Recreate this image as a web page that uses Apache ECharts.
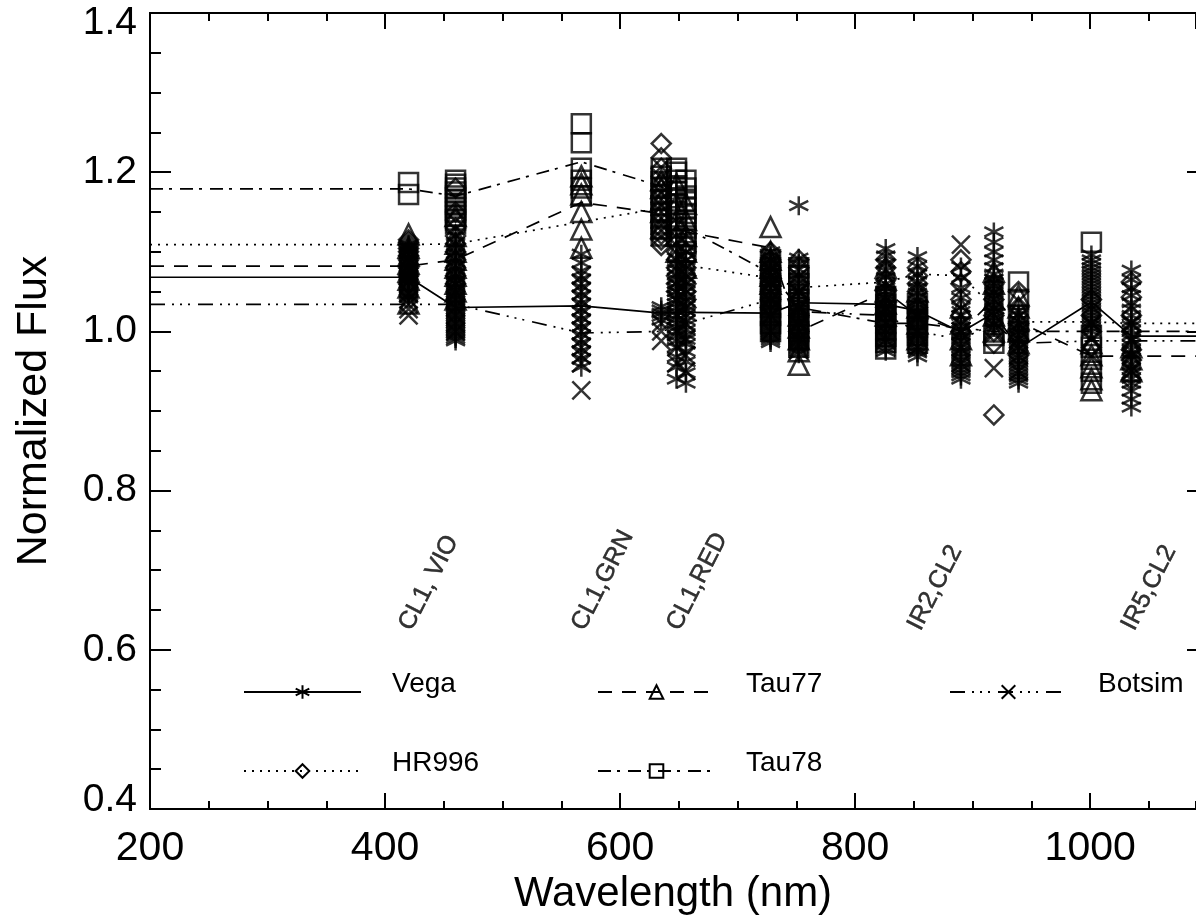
<!DOCTYPE html>
<html><head><meta charset="utf-8">
<script src="https://cdn.jsdelivr.net/npm/echarts@6/dist/echarts.min.js"></script>
<style>html,body{margin:0;padding:0;background:#fff}#c{width:1196px;height:918px}</style>
</head><body><div id="c"></div>
<script>
// Filter wavelengths (nm)
const filters = [420, 460, 567, 635, 648, 656, 728, 752, 826, 853, 890, 918, 939, 1001, 1035];
const filterLabels = ['CL1, VIO', 'CL1,GRN', 'CL1,RED', 'IR2,CL2', 'IR5,CL2'];
const filterLabelWl = [420, 567, 648, 853, 1035];
const filterLabelY = [0.627, 0.627, 0.627, 0.627, 0.627];
const yTickLabels = ['0.4', '0.6', '0.8', '1.0', '1.2', '1.4'];

// Individual measurements per filter (same order as filters)
const vegaPts = [
  [1.042,1.045,1.048,1.051,1.054,1.057,1.060,1.062,1.064,1.066,1.068,1.070,1.072,1.074,1.076,1.078,1.081,1.084,1.087,1.090,1.093,1.097,1.101,1.105,1.109],
  [0.988,0.991,0.994,0.997,1.0,1.003,1.006,1.009,1.012,1.015,1.018,1.021,1.024,1.027,1.030,1.033,1.036,1.039,1.042,1.045,1.048,1.052,1.056,1.06,1.064,1.068,1.072,1.077,1.082,1.087,1.092,1.098,1.105,1.112,1.12],
  [0.955,0.966,0.976,0.986,0.996,1.006,1.016,1.026,1.036,1.046,1.056,1.066,1.076,1.086,1.097],
  [1.014,1.019,1.023,1.027,1.031],
  [0.94,0.955,0.968,0.98,0.988,0.994,1.0,1.005,1.01,1.015,1.02,1.025,1.03,1.035,1.04,1.045,1.05,1.055,1.06,1.066,1.072,1.078,1.085,1.092],
  [0.935,0.948,0.962,0.975,0.984,0.99,0.996,1.002,1.008,1.014,1.02,1.026,1.032,1.038,1.044,1.05,1.056,1.062,1.068,1.075,1.082,1.09,1.1],
  [0.986,0.989,0.992,0.995,0.998,1.001,1.004,1.007,1.01,1.013,1.016,1.019,1.022,1.025,1.028,1.031,1.034,1.037,1.04,1.043,1.046,1.05,1.054,1.058,1.062,1.066,1.07,1.074,1.078,1.082,1.086,1.09,1.095,1.1],
  [0.972,0.975,0.978,0.981,0.984,0.987,0.99,0.993,0.996,0.999,1.002,1.005,1.008,1.011,1.014,1.017,1.02,1.023,1.026,1.029,1.032,1.036,1.04,1.044,1.048,1.052,1.057,1.062,1.067,1.072,1.078,1.085,1.092,1.158],
  [0.975,0.979,0.983,0.987,0.99,0.993,0.996,0.999,1.002,1.005,1.008,1.011,1.014,1.017,1.02,1.023,1.026,1.029,1.032,1.035,1.038,1.042,1.046,1.05,1.055,1.06,1.068,1.076,1.085,1.095,1.104],
  [0.968,0.973,0.977,0.981,0.985,0.988,0.991,0.994,0.997,1.0,1.003,1.006,1.009,1.012,1.015,1.018,1.021,1.024,1.027,1.03,1.034,1.038,1.043,1.048,1.055,1.063,1.072,1.082,1.094],
  [0.94,0.944,0.948,0.952,0.956,0.96,0.964,0.968,0.972,0.976,0.98,0.984,0.988,0.992,0.996,1.0,1.005,1.012,1.02,1.03,1.042,1.055,1.068,1.081],
  [1.005,1.009,1.013,1.017,1.021,1.025,1.029,1.033,1.037,1.041,1.045,1.049,1.053,1.057,1.061,1.066,1.072,1.08,1.09,1.1,1.112,1.125],
  [0.935,0.939,0.943,0.947,0.951,0.955,0.959,0.963,0.967,0.971,0.975,0.979,0.983,0.987,0.991,0.995,0.999,1.003,1.008,1.014,1.02,1.026],
  [1.0,1.004,1.008,1.012,1.016,1.02,1.024,1.028,1.032,1.036,1.04,1.044,1.048,1.052,1.056,1.06,1.064,1.068,1.072,1.076,1.08,1.085,1.09,1.096],
  [0.905,0.915,0.925,0.935,0.941,0.947,0.953,0.959,0.965,0.971,0.977,0.983,0.989,0.995,1.001,1.007,1.013,1.02,1.028,1.036,1.045,1.055,1.065,1.077]
];
const hr996Pts = [
  [1.06,1.07,1.08,1.09,1.095,1.10,1.104,1.108,1.112,1.115],
  [1.06,1.07,1.08,1.09,1.10,1.11,1.12,1.13,1.14,1.15,1.18],
  [],
  [1.108,1.115,1.122,1.13,1.138,1.146,1.154,1.162,1.17,1.178,1.186,1.195,1.205,1.218,1.236],
  [1.05,1.06,1.07,1.08,1.09,1.10,1.11,1.12,1.13],
  [1.03,1.04,1.05,1.06,1.07,1.08,1.09,1.10,1.11],
  [1.03,1.04,1.05,1.06,1.07,1.08,1.09,1.10],
  [1.0,1.02,1.04,1.06,1.08,1.09],
  [1.01,1.03,1.05,1.065,1.08,1.09],
  [1.03,1.05,1.06,1.07,1.08],
  [1.0,1.02,1.04,1.06,1.075,1.09],
  [0.895,0.985,1.0,1.02,1.04,1.06],
  [0.97,0.99,1.01,1.03,1.05],
  [0.98,1.0,1.02,1.04],
  [0.939,0.964,0.977,1.0,1.02,1.043,1.062]
];
const tau77Pts = [
  [1.035,1.055,1.065,1.075,1.085,1.095,1.105,1.122],
  [1.04,1.05,1.06,1.07,1.08,1.09,1.10,1.11,1.12,1.145],
  [1.105,1.128,1.15,1.172,1.185,1.195],
  [1.13,1.15,1.165,1.18,1.19],
  [1.10,1.12,1.14,1.16,1.185],
  [1.08,1.10,1.12,1.14,1.16],
  [1.06,1.07,1.08,1.09,1.10,1.131],
  [0.958,0.975,0.99,1.005,1.02],
  [1.02,1.035,1.05,1.065,1.08],
  [0.99,1.01,1.03,1.05],
  [0.97,0.99,1.01,1.03],
  [1.0,1.02,1.04,1.06,1.075],
  [0.985,1.0,1.015,1.03,1.045],
  [0.926,0.94,0.955,0.97,0.985],
  [0.95,0.965,0.98]
];
const tau78Pts = [
  [1.172,1.187],
  [1.135,1.14,1.145,1.15,1.155,1.16,1.165,1.17,1.175,1.18,1.185,1.19],
  [1.17,1.18,1.19,1.205,1.237,1.261],
  [1.12,1.128,1.135,1.142,1.15,1.158,1.165,1.172,1.18,1.188,1.195,1.205],
  [1.12,1.13,1.14,1.15,1.16,1.168,1.175,1.183,1.19,1.20,1.205],
  [1.10,1.11,1.12,1.13,1.14,1.148,1.155,1.163,1.17,1.18,1.19],
  [1.0,1.01,1.02,1.03,1.04,1.05,1.06,1.07,1.08,1.09],
  [0.98,0.99,1.0,1.01,1.02,1.03,1.04,1.05,1.06,1.07,1.08],
  [0.978,0.986,0.994,1.002,1.01,1.018,1.026,1.034,1.044],
  [0.985,0.995,1.005,1.015,1.025,1.035],
  [],
  [0.985,0.995],
  [1.0,1.02,1.04,1.062],
  [0.935,0.95,0.965,0.98,0.995,1.112],
  []
];
const botsimPts = [
  [1.02,1.028,1.034,1.04,1.048],
  [1.0,1.01,1.02,1.03,1.04,1.05,1.06],
  [0.926,0.96,0.97,0.98,0.99,1.0,1.01,1.02,1.03,1.04,1.05,1.06,1.07],
  [0.988,1.0,1.01],
  [0.96,0.98,1.0,1.02,1.04],
  [0.95,0.97,0.99,1.01,1.03],
  [1.0,1.02,1.04,1.06],
  [0.99,1.01,1.03,1.05],
  [0.99,1.01,1.03],
  [0.98,1.0,1.02],
  [0.96,0.98,1.0,1.02,1.109],
  [0.954,1.0,1.02,1.04,1.06],
  [0.95,0.97,0.99,1.01],
  [0.97,0.99,1.01],
  [0.95,0.97,0.99,1.01]
];

// Mean flux per filter (null = no data), drawn as connecting lines
const vegaMean   = [1.068,1.030,1.032,1.023,1.024,1.024,1.023,1.036,1.034,1.026,0.999,1.023,0.979,1.037,0.994];
const hr996Mean  = [1.109,1.110,null,1.155,1.100,1.083,1.067,1.055,1.062,1.072,1.070,1.030,1.012,1.012,1.010];
const tau77Mean  = [1.082,1.090,1.162,1.148,1.140,1.125,1.105,1.000,1.050,1.020,1.000,1.040,1.012,0.969,0.969];
const tau78Mean  = [1.179,1.170,1.213,1.182,1.165,1.130,1.073,1.030,1.010,1.010,null,1.000,1.000,1.000,null];
const botsimMean = [1.034,1.034,0.998,1.000,1.005,1.010,1.040,1.025,1.020,1.000,0.990,1.010,0.985,0.988,0.988];

const X_MIN = 200, X_MAX = 1090;

const stars = [
  {name:'Vega',   pts:vegaPts,   mean:vegaMean,   symbol:'path://M0,-10L0,10M-8.66,-5L8.66,5M-8.66,5L8.66,-5', size:19, dash:'solid'},
  {name:'HR996',  pts:hr996Pts,  mean:hr996Mean,  symbol:'diamond', size:19, dash:[2,6]},
  {name:'Tau77',  pts:tau77Pts,  mean:tau77Mean,  symbol:'triangle', size:20, dash:[14,10]},
  {name:'Tau78',  pts:tau78Pts,  mean:tau78Mean,  symbol:'rect', size:19, dash:[13,6,3,8]},
  {name:'Botsim', pts:botsimPts, mean:botsimMean, symbol:'path://M-10,-10L10,10M-10,10L10,-10', size:18, dash:[15,7,2,6,2,6,2,8]}
];

const series = [];
stars.forEach(s => {
  const mpts = [];
  s.mean.forEach((m, i) => { if (m !== null) mpts.push([filters[i], m]); });
  const line = [[X_MIN, mpts[0][1]]].concat(mpts, [[X_MAX, mpts[mpts.length-1][1]]]);
  series.push({
    type:'line', name:s.name, data:line, showSymbol:false, symbol:s.symbol, symbolSize:s.size,
    lineStyle:{color:'#000', width:1.7, type:s.dash},
    itemStyle:{color:'rgba(255,255,255,0)', borderColor:'#000', borderWidth:1.6},
    z:3, silent:true
  });
  const sc = [];
  s.pts.forEach((arr, i) => arr.forEach(v => sc.push([filters[i], v])));
  series.push({
    type:'scatter', name:s.name + '_pts', data:sc, symbol:s.symbol, symbolSize:s.size,
    itemStyle:{color:'rgba(255,255,255,0)', borderColor:'#000', borderWidth:2.5},
    z:4, silent:true
  });
});
series.push({
  type:'scatter', name:'labels', symbolSize:0, silent:true,
  data: filterLabelWl.map((w, i) => ({value:[w, filterLabelY[i]], name:filterLabels[i]})),
  label:{show:true, formatter:p => p.name, position:[8, 6], align:'left', verticalAlign:'bottom',
         rotate:63, fontSize:25, color:'#000', textBorderColor:'#000', textBorderWidth:0.5,
         fontFamily:'Liberation Sans, Arial, sans-serif'}
});

const font = 'Liberation Sans, Arial, sans-serif';
const axisLine = {show:true, lineStyle:{color:'#000', width:2}};
function xAx(pos, interval, len, labels) {
  return {type:'value', position:pos, min:X_MIN, max:X_MAX, interval:interval,
    axisLine:axisLine, splitLine:{show:false},
    axisTick:{show:true, inside:true, length:len, lineStyle:{color:'#000', width:2}},
    axisLabel: labels ? {show:true, fontSize:41, color:'#000', margin:19, fontFamily:font,
      showMaxLabel:false, formatter:v => String(v)} : {show:false}};
}
const xAxes = [xAx('bottom', 200, 16, true), xAx('bottom', 50, 8, false), xAx('top', 200, 16, false), xAx('top', 50, 8, false)];
xAxes[0].name = 'Wavelength (nm)';
xAxes[0].nameLocation = 'middle';
xAxes[0].nameGap = 62;
xAxes[0].nameTextStyle = {fontSize:42, color:'#000', fontFamily:font};

const yAxes = [
  {type:'value', position:'left', min:0.4, max:1.4, interval:0.2,
    axisLine:axisLine, splitLine:{show:false},
    axisTick:{show:true, inside:true, length:21, lineStyle:{color:'#000', width:2}},
    minorTick:{show:true, splitNumber:4, length:11, lineStyle:{color:'#000', width:2}},
    axisLabel:{show:true, fontSize:39, color:'#000', margin:13, fontFamily:font,
      formatter:v => {
        const i = Math.round((v - 0.4) / 0.2);
        const t = yTickLabels[i];
        if (i === yTickLabels.length - 1) return '{t|' + t + '}';
        if (i === 0) return '{b|' + t + '}';
        return t;
      },
      rich:{t:{fontSize:39, fontFamily:font, color:'#000', padding:[21,0,0,0]},
            b:{fontSize:39, fontFamily:font, color:'#000', padding:[0,0,18,0]}}},
    name:'Normalized Flux', nameLocation:'middle', nameGap:94,
    nameTextStyle:{fontSize:43, color:'#000', fontFamily:font}},
  {type:'value', position:'right', min:0.4, max:1.4, interval:0.2,
    axisLine:{show:false}, splitLine:{show:false},
    axisTick:{show:true, inside:true, length:9, lineStyle:{color:'#000', width:2}},
    axisLabel:{show:false}}
];

const legendPos = [
  {name:'Vega', left:243, top:670},
  {name:'Tau77', left:597, top:670},
  {name:'Botsim', left:949, top:670},
  {name:'HR996', left:243, top:749},
  {name:'Tau78', left:597, top:749}
];
const legends = legendPos.map(l => ({
  data:[l.name], left:l.left, top:l.top, orient:'horizontal', padding:0,
  itemWidth:117, itemHeight:17, itemGap:0, selectedMode:false,
  formatter: n => '{a|' + n + '}',
  textStyle:{color:'#000', fontFamily:font,
    rich:{a:{fontSize:28, color:'#000', fontFamily:font, padding:[0,0,16,26]}}}
}));

const chart = echarts.init(document.getElementById('c'), null, {renderer:'canvas'});
chart.setOption({
  animation:false,
  backgroundColor:'#fff',
  grid:{left:150, right:0, top:13, bottom:109, containLabel:false, outerBoundsMode:'none'},
  xAxis:xAxes,
  yAxis:yAxes,
  legend:legends,
  series:series
});
</script></body></html>
